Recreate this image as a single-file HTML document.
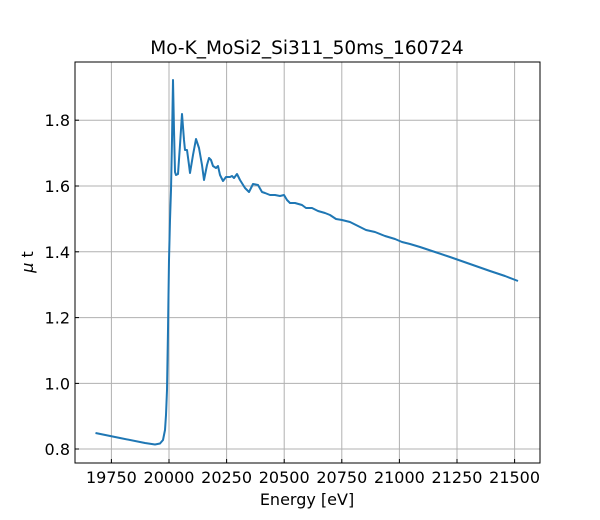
<!DOCTYPE html>
<html><head><style>body{margin:0;background:#fff}svg{display:block}</style></head><body>
<svg width="600" height="520" xmlns="http://www.w3.org/2000/svg" font-family="DejaVu Sans, sans-serif">
<rect width="600" height="520" fill="#fff"/>
<g stroke="#b0b0b0" stroke-width="1">
<line x1="111.4" y1="62" x2="111.4" y2="463"/><line x1="169" y1="62" x2="169" y2="463"/>
<line x1="226.6" y1="62" x2="226.6" y2="463"/><line x1="284.2" y1="62" x2="284.2" y2="463"/>
<line x1="341.8" y1="62" x2="341.8" y2="463"/><line x1="399.4" y1="62" x2="399.4" y2="463"/>
<line x1="457" y1="62" x2="457" y2="463"/><line x1="514.6" y1="62" x2="514.6" y2="463"/>
<line x1="75" y1="449" x2="540" y2="449"/><line x1="75" y1="383.4" x2="540" y2="383.4"/>
<line x1="75" y1="317.6" x2="540" y2="317.6"/><line x1="75" y1="251.8" x2="540" y2="251.8"/>
<line x1="75" y1="186" x2="540" y2="186"/><line x1="75" y1="120.2" x2="540" y2="120.2"/>
</g>
<polyline fill="none" stroke="#1f77b4" stroke-width="2" stroke-linejoin="round" points="95.5,433 120,438 145,443 155,444.5 160,443.5 163,440 165,430 166,415 167,390 168,330 169,260 170,220 171,190 172,140 173,80 174,130 175,172 176,175 178,174 180,145 182,114 184,140 185,150 187,150 189,165 190,173 193,155 196,139 199,148 202,165 204,180 207,165 209,158 211,160 213,166 216,168 218,166 220,175 223,181 226,177 230,177 232,176 234,178 237,174 240,180 245,188 249,192 253,184 258,185 262,192 265,193 270,195 275,195 280,196 284,195 287,200 290,203 295,203 302,205 306,208 312,208 318,211 325,213 330,215 336,219 342,220 350,222 358,226 366,230 375,232 385,236 395,239 402,242 410,244 420,247 435,252 450,257 470,264 490,271 505,276 518,281"/>
<rect x="75" y="62" width="465" height="401" fill="none" stroke="#000" stroke-width="1"/>
<g stroke="#000" stroke-width="1">
<line x1="111.4" y1="463" x2="111.4" y2="459"/><line x1="169" y1="463" x2="169" y2="459"/><line x1="226.6" y1="463" x2="226.6" y2="459"/><line x1="284.2" y1="463" x2="284.2" y2="459"/><line x1="341.8" y1="463" x2="341.8" y2="459"/><line x1="399.4" y1="463" x2="399.4" y2="459"/><line x1="457" y1="463" x2="457" y2="459"/><line x1="514.6" y1="463" x2="514.6" y2="459"/>
<line x1="75" y1="449" x2="79" y2="449"/><line x1="75" y1="383.4" x2="79" y2="383.4"/><line x1="75" y1="317.6" x2="79" y2="317.6"/><line x1="75" y1="251.8" x2="79" y2="251.8"/><line x1="75" y1="186" x2="79" y2="186"/><line x1="75" y1="120.2" x2="79" y2="120.2"/>
</g>
<g font-size="16" text-anchor="middle" fill="#000">
<text x="111.4" y="483">19750</text><text x="169" y="483">20000</text><text x="226.6" y="483">20250</text><text x="284.2" y="483">20500</text><text x="341.8" y="483">20750</text><text x="399.4" y="483">21000</text><text x="457" y="483">21250</text><text x="514.6" y="483">21500</text>
<text x="307" y="505">Energy [eV]</text>
<text x="307" y="54" font-size="18.5">Mo-K_MoSi2_Si311_50ms_160724</text>
</g>
<g font-size="16" text-anchor="end" fill="#000">
<text x="70" y="455">0.8</text><text x="70" y="389.4">1.0</text><text x="70" y="323.6">1.2</text><text x="70" y="257.8">1.4</text><text x="70" y="192">1.6</text><text x="70" y="126.2">1.8</text>
</g>
<text x="33" y="262" font-size="16" text-anchor="middle" transform="rotate(-90 33 262)"><tspan font-style="italic">μ</tspan> t</text>
</svg>
</body></html>
